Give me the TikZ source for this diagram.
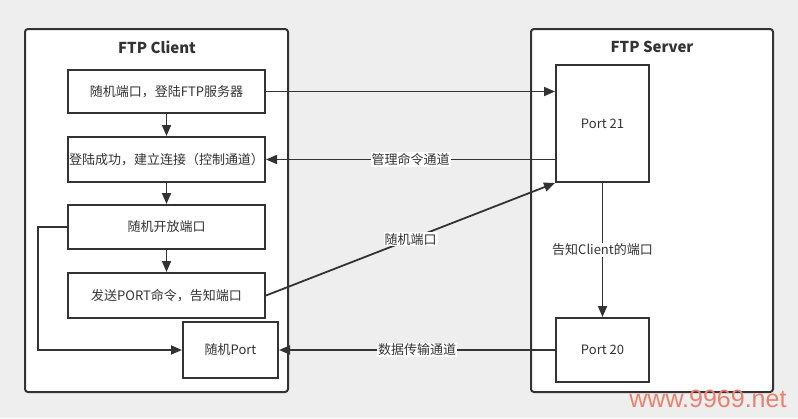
\documentclass[tikz,border=0pt]{standalone}
\usepackage{fontspec}
\setmainfont{Noto Sans CJK SC}
\newfontfamily\wmfont{Liberation Sans}
\usetikzlibrary{arrows.meta}
\definecolor{bggray}{HTML}{EEEEEE}
\definecolor{linec}{HTML}{333333}
\definecolor{txtc}{HTML}{333333}
\definecolor{wmc}{HTML}{E8826E}
\tikzset{
  container/.style={draw=linec, line width=2pt, fill=white, rounded corners=3pt},
  procbox/.style={draw=linec, line width=2pt, fill=white, inner sep=0pt, text=txtc, font=\fontsize{13}{15}\selectfont},
  title/.style={font=\fontsize{15}{17}\selectfont\bfseries, text=txtc},
  conn/.style={draw=linec, line width=1.8pt, -{Triangle[length=11pt,width=9pt]}},
  lbl/.style={fill=white, inner sep=1pt, text=txtc, font=\fontsize{13}{15}\selectfont}
}
\begin{document}
\begin{tikzpicture}[x=1pt,y=-1pt]
\fill[bggray] (0,0) rectangle (798,418);
\useasboundingbox (0,0) rectangle (798,418);
% containers
\draw[container] (25,29) rectangle (288,392);
\draw[container] (531,29) rectangle (773,392);
\node[title] (tc) at (157,47) {FTP Client};
\node[title] (ts) at (652,47) {FTP Server};
% client boxes
\node[procbox, minimum width=197pt, minimum height=43pt] (b1) at (166.5,91.5) {随机端口，登陆FTP服务器};
\node[procbox, minimum width=197pt, minimum height=45pt] (b2) at (166.5,159.5) {登陆成功，建立连接（控制通道）};
\node[procbox, minimum width=197pt, minimum height=44pt] (b3) at (166.5,227) {随机开放端口};
\node[procbox, minimum width=197pt, minimum height=45pt] (b4) at (166.5,295.5) {发送PORT命令，告知端口};
\node[procbox, minimum width=95pt, minimum height=56pt] (b5) at (230.5,350) {随机Port};
% server boxes
\node[procbox, minimum width=93pt, minimum height=117pt] (p21) at (602.5,123.5) {Port 21};
\node[procbox, minimum width=93pt, minimum height=64pt] (p20) at (602.5,350) {Port 20};
% vertical flow
\draw[conn] (b1) -- (b2);
\draw[conn] (b2) -- (b3);
\draw[conn] (b3) -- (b4);
% cross connectors
\draw[conn] (b1.east) -- (p21.west |- b1.east);
\draw[conn] (p21.west |- b2.east) -- node[lbl] (l1) {管理命令通道} (b2.east);
\draw[conn] (b4.east) -- node[lbl, pos=0.5] (l2) {随机端口} (p21.south west);
\draw[conn] (p21.south) -- node[lbl] (l3) {告知Client的端口} (p20.north);
\draw[conn] (p20.west) -- node[lbl] (l4) {数据传输通道} (b5.east);
\coordinate (c1) at (38,227);
\coordinate (c2) at (38,350);
\draw[conn] (b3.west) -- (c1) -- (c2) -- (b5.west);
% watermark
\node[text=wmc, font=\wmfont\fontsize{25}{28}\selectfont, anchor=east] (wm) at (790,399) {www.9969.net};
\end{tikzpicture}
\end{document}
